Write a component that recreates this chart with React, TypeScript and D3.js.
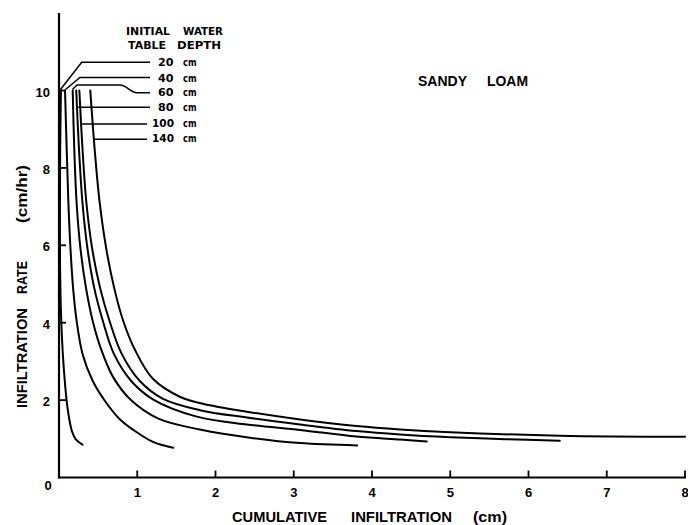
import React from "react";
import * as d3 from "d3";

// Initial water table depths (cm)
const depths = ["20", "40", "60", "80", "100", "140"];

// Each curve: [cumulative infiltration (cm), infiltration rate (cm/hr)]
const curve20: [number, number][] = [
  [0.025, 10], [0.015, 8.5], [0.012, 7], [0.013, 5.5], [0.022, 4.5], [0.038, 3.6],
  [0.062, 2.8], [0.097, 2.0], [0.132, 1.5], [0.165, 1.2], [0.21, 1.0], [0.3, 0.85],
];
const curve40: [number, number][] = [
  [0.077, 10], [0.098, 8.5], [0.12, 7.1], [0.147, 5.9], [0.18, 4.9], [0.225, 4.05],
  [0.3, 3.2], [0.43, 2.5], [0.59, 1.97], [0.77, 1.52], [0.95, 1.23], [1.2, 0.92], [1.46, 0.77],
];
const curve60: [number, number][] = [
  [0.175, 10], [0.195, 8.5], [0.225, 7.1], [0.275, 5.9], [0.345, 4.9], [0.43, 4.05],
  [0.53, 3.36], [0.69, 2.6], [0.92, 2.0], [1.27, 1.52], [1.8, 1.24], [2.44, 1.03],
  [3.08, 0.89], [3.81, 0.83],
];
const curve80: [number, number][] = [
  [0.22, 10], [0.255, 8.5], [0.3, 7.1], [0.365, 5.9], [0.45, 4.9], [0.56, 4.05],
  [0.7, 3.2], [0.92, 2.5], [1.2, 2.02], [1.75, 1.58], [2.4, 1.37], [3.08, 1.23],
  [3.8, 1.06], [4.36, 0.98], [4.7, 0.93],
];
const curve100: [number, number][] = [
  [0.26, 10], [0.3, 8.5], [0.35, 7.1], [0.425, 5.9], [0.525, 4.9], [0.645, 4.05],
  [0.8, 3.2], [1.03, 2.5], [1.33, 2.03], [1.8, 1.74], [2.4, 1.55], [3.08, 1.37],
  [3.8, 1.2], [4.36, 1.11], [5.0, 1.04], [5.7, 0.99], [6.4, 0.95],
];
const curve140: [number, number][] = [
  [0.4, 10], [0.455, 8.5], [0.52, 7.1], [0.605, 5.9], [0.705, 4.9], [0.82, 4.05],
  [0.97, 3.3], [1.2, 2.55], [1.55, 2.08], [1.85, 1.9], [2.4, 1.7], [3.08, 1.5],
  [3.8, 1.33], [4.36, 1.24], [5.0, 1.17], [6.4, 1.08], [8.0, 1.05],
];
const curves = [curve20, curve40, curve60, curve80, curve100, curve140];

const xTicks = [1, 2, 3, 4, 5, 6, 7, 8];
const yTicks = [2, 4, 6, 8, 10];

const W = 688;
const H = 525;
const FONT = "'Liberation Sans', Arial, sans-serif";
const LFONT = "'DejaVu Sans', sans-serif";

export default function App() {
  const x = d3.scaleLinear().domain([0, 8]).range([59, 685]);
  const y = d3.scaleLinear().domain([0, 10]).range([477.5, 90.5]);
  const line = d3
    .line<[number, number]>()
    .x((d) => x(d[0]))
    .y((d) => y(d[1]))
    .curve(d3.curveCatmullRom.alpha(0.5));

  // legend rows (baselines), leader lines in pixel layout
  const rowY = [66, 81.5, 96, 111, 126.5, 142];
  const leaders = [
    "M150,62.3 L81.7,62.3 L60.5,89.5",
    "M150,77.5 L80,77.5 L65.5,89.5",
    "M150,92.7 L137,92.7 C130,92.7 127,85 120,85 L77,85 L72.5,89.5",
    "M150,107.3 L77.5,107.3",
    "M147,124 L81.5,124",
    "M147,139.3 L94,139.3",
  ];

  return (
    <svg
      width={W}
      height={H}
      style={{ position: "absolute", left: 0, top: 0, background: "#fff" }}
    >
      <rect x={0} y={0} width={W} height={H} fill="#fff" />
      {/* axes */}
      <line x1={x(0)} y1={13} x2={x(0)} y2={y(0) + 1} stroke="#000" strokeWidth={2.2} />
      <line x1={x(0) - 1} y1={y(0)} x2={x(8) + 1} y2={y(0)} stroke="#000" strokeWidth={2.2} />
      {xTicks.map((t) => (
        <g key={"xt" + t}>
          <line x1={x(t)} y1={y(0)} x2={x(t)} y2={y(0) - 7} stroke="#000" strokeWidth={1.8} />
          <text
            x={x(t)}
            y={497}
            textAnchor="middle"
            fontFamily={FONT}
            fontWeight="bold"
            fontSize={13}
          >
            {t}
          </text>
        </g>
      ))}
      <text x={48} y={490} textAnchor="middle" fontFamily={FONT} fontWeight="bold" fontSize={13}>
        0
      </text>
      {yTicks.map((t) => (
        <g key={"yt" + t}>
          <line x1={x(0)} y1={y(t)} x2={x(0) + 7} y2={y(t)} stroke="#000" strokeWidth={1.8} />
          <text
            x={50}
            y={y(t) + 6}
            textAnchor="end"
            fontFamily={FONT}
            fontWeight="bold"
            fontSize={13}
          >
            {t}
          </text>
        </g>
      ))}

      {/* curves */}
      {curves.map((c, i) => (
        <path
          key={"c" + i}
          d={line(c) || ""}
          fill="none"
          stroke="#000"
          strokeWidth={2}
          strokeLinecap="round"
        />
      ))}

      {/* axis titles */}
      <g fontFamily={FONT} fontWeight="bold" fontSize={14}>
        <text x={232} y={522} textLength={95} lengthAdjust="spacingAndGlyphs">CUMULATIVE</text>
        <text x={351} y={522} textLength={101} lengthAdjust="spacingAndGlyphs">INFILTRATION</text>
        <text x={473} y={522} textLength={34} lengthAdjust="spacingAndGlyphs">(cm)</text>
      </g>
      <g fontFamily={FONT} fontWeight="bold" fontSize={14}>
        <text transform="translate(27,408) rotate(-90)" textLength={100} lengthAdjust="spacingAndGlyphs">
          INFILTRATION
        </text>
        <text transform="translate(27,294) rotate(-90)" textLength={33} lengthAdjust="spacingAndGlyphs">
          RATE
        </text>
        <text transform="translate(27,223) rotate(-90)" textLength={58} lengthAdjust="spacingAndGlyphs">
          (cm/hr)
        </text>
      </g>

      {/* soil label */}
      <g fontFamily={FONT} fontWeight="bold" fontSize={14.5}>
        <text x={418} y={85.5} textLength={49} lengthAdjust="spacingAndGlyphs">SANDY</text>
        <text x={487} y={85.5} textLength={41} lengthAdjust="spacingAndGlyphs">LOAM</text>
      </g>

      {/* legend */}
      <g fontFamily={LFONT} fontWeight="bold" fontSize={10}>
        <text x={126} y={35} textLength={44} lengthAdjust="spacingAndGlyphs">INITIAL</text>
        <text x={183} y={35} textLength={40} lengthAdjust="spacingAndGlyphs">WATER</text>
        <text x={128} y={48.5} textLength={38} lengthAdjust="spacingAndGlyphs">TABLE</text>
        <text x={177} y={48.5} textLength={44} lengthAdjust="spacingAndGlyphs">DEPTH</text>
        {depths.map((d, i) => (
          <g key={"lg" + d}>
            <path d={leaders[i]} fill="none" stroke="#000" strokeWidth={1.5} />
            <text
              x={d.length > 2 ? 152 : 158}
              y={rowY[i]}
              textLength={d.length > 2 ? 22 : 15.5}
              lengthAdjust="spacingAndGlyphs"
            >
              {d}
            </text>
            <text x={183} y={rowY[i]} textLength={13.5} lengthAdjust="spacingAndGlyphs">
              cm
            </text>
          </g>
        ))}
      </g>
    </svg>
  );
}
